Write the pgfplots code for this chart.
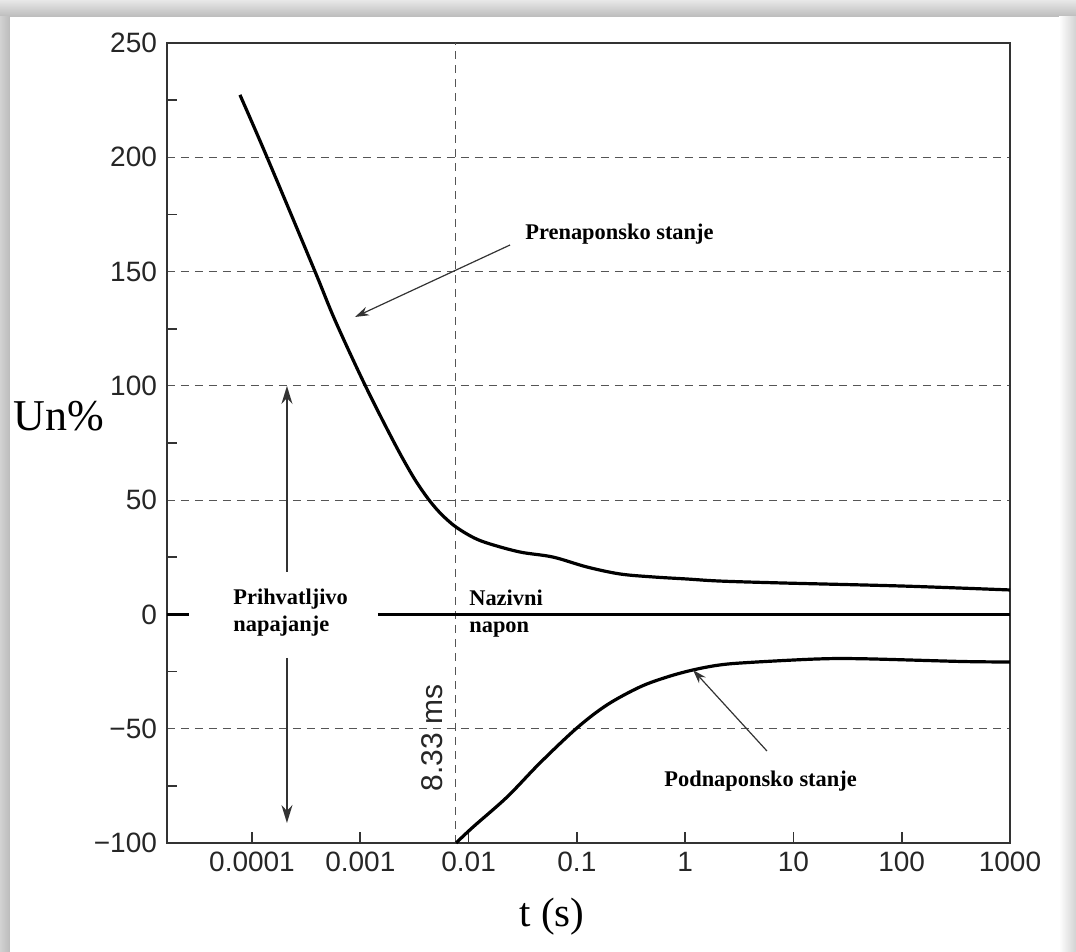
\documentclass[border=0pt]{standalone}
\usepackage{fontspec}
\setmainfont{Liberation Serif}
\setsansfont{Liberation Sans}
\usepackage{pgfplots}
\pgfplotsset{compat=1.18}
\usetikzlibrary{arrows.meta}

\definecolor{axisgray}{HTML}{333333}
\definecolor{gridgray}{HTML}{555555}
\definecolor{frameA}{HTML}{E8E8E8}
\definecolor{frameB}{HTML}{BBBBBB}
\definecolor{frameC}{HTML}{D2D2D2}

\begin{document}
\begin{tikzpicture}
\useasboundingbox (-83.5pt,-54.5pt) rectangle (454.5pt,421.5pt);
% shadow frame of the scanned figure
\shade[top color=frameA, bottom color=frameB] (-83.5pt,413pt) rectangle (454.5pt,421.5pt);
\shade[left color=frameC, right color=frameB] (-83.5pt,-54.5pt) rectangle (-78.5pt,413pt);
\shade[left color=white, right color=frameC] (446pt,-54.5pt) rectangle (454.5pt,413pt);
\begin{axis}[
  at={(0pt,0pt)}, anchor=south west,
  scale only axis,
  width=421.5pt, height=400pt,
  xmode=log,
  xmin=1.64e-5, xmax=1000,
  ymin=-100, ymax=250,
  clip=false,
  axis line style={draw=axisgray, line width=1pt},
  tick pos=left,
  tick align=inside,
  xtick={0.0001,0.001,0.01,0.1,1,10,100,1000},
  xticklabels={0.0001,0.001,0.01,0.1,1,10,100,1000},
  xminorticks=false,
  ytick={-100,-50,50,100,150,200,250},
  yticklabels={−100,−50,50,100,150,200,250},
  extra y ticks={0},
  extra y tick labels={0},
  extra y tick style={grid=none},
  minor ytick={-75,-25,25,75,125,175,225},
  major tick length=5.5pt,
  minor tick length=5pt,
  tick style={draw=axisgray, line width=0.9pt},
  major y tick style={draw=none},
  ymajorgrids=true,
  major grid style={draw=gridgray, line width=0.5pt, dash pattern=on 4pt off 3pt},
  tick label style={font=\sffamily\fontsize{14}{14}\selectfont, text=black!85},
  yticklabel style={xshift=-1.5pt},
  xticklabel style={yshift=-1pt},
]
% 8.33 ms marker
\addplot[gridgray, line width=0.6pt, dash pattern=on 4pt off 3pt] coordinates {(0.0076,-100) (0.0076,250)};
% nominal voltage line
\addplot[black, line width=1.1pt] coordinates {(1.64e-5,0) (2.62e-5,0)};
\addplot[black, line width=1.1pt] coordinates {(1.455e-3,0) (1000,0)};
% overvoltage curve
\addplot[black, line width=1.6pt, smooth, tension=0.55] coordinates {
  (7.74e-5,227.3) (1.377e-4,200) (3.82e-4,150) (5.83e-4,128.8) (1.104e-3,100.4)
  (2.042e-3,75.4) (3.020e-3,60.9) (3.981e-3,52.3) (5.012e-3,46.3) (6.310e-3,41.5)
  (7.943e-3,37.7) (0.01122,33.5) (0.01585,30.8) (0.02985,27.3) (0.0601,25.1)
  (0.1239,20.75) (0.25,17.7) (0.505,16.4) (1.04,15.5) (2.094,14.6)
  (8.0,13.75) (104.7,12.4) (1000,10.7)
};
% undervoltage curve
\addplot[black, line width=1.6pt, smooth, tension=0.55] coordinates {
  (7.66e-3,-100) (0.011,-93) (0.02265,-79.9) (0.0456,-65) (0.1,-49.7)
  (0.1897,-39.6) (0.382,-31.75) (0.679,-27.4) (1.18,-24.3) (2.094,-22.1)
  (3.96,-21.0) (16.5,-19.5) (43.9,-19.4) (367,-20.6) (1000,-20.8)
};
% annotations
\draw[-{Stealth[length=7pt,width=4.5pt]}, line width=0.6pt, axisgray]
  (rel axis cs:0.4069,0.7475) -- (rel axis cs:0.2230,0.6575);
\draw[-{Stealth[length=7pt,width=4.5pt]}, line width=0.6pt, axisgray]
  (rel axis cs:0.7117,0.115) -- (rel axis cs:0.624,0.21625);
\draw[-{Stealth[length=9pt,width=5.5pt]}, line width=0.8pt, axisgray]
  (rel axis cs:0.1423,0.3388) -- (rel axis cs:0.1423,0.5713);
\draw[-{Stealth[length=9pt,width=5.5pt]}, line width=0.8pt, axisgray]
  (rel axis cs:0.1423,0.2313) -- (rel axis cs:0.1423,0.025);
\node[anchor=base west, inner sep=0pt, font=\bfseries\fontsize{11.2}{11.2}\selectfont]
  at (rel axis cs:0.4247,0.754) {Prenaponsko stanje};
\node[anchor=base west, inner sep=0pt, font=\bfseries\fontsize{11.2}{11.2}\selectfont]
  at (rel axis cs:0.5896,0.07) {Podnaponsko stanje};
\node[anchor=base west, inner sep=0pt, font=\bfseries\fontsize{11.2}{11.2}\selectfont]
  at (rel axis cs:0.0783,0.2975) {Prihvatljivo};
\node[anchor=base west, inner sep=0pt, font=\bfseries\fontsize{11.2}{11.2}\selectfont]
  at (rel axis cs:0.0783,0.26375) {napajanje};
\node[anchor=base west, inner sep=0pt, font=\bfseries\fontsize{11.2}{11.2}\selectfont]
  at (rel axis cs:0.3582,0.29625) {Nazivni};
\node[anchor=base west, inner sep=0pt, font=\bfseries\fontsize{11.2}{11.2}\selectfont]
  at (rel axis cs:0.3582,0.2625) {napon};
\node[rotate=90, inner sep=0pt, font=\sffamily\fontsize{15}{15}\selectfont, text=black!85]
  at (rel axis cs:0.3144,0.13125) {8.33 ms};
% axis titles
\node[inner sep=0pt, font=\fontsize{22}{22}\selectfont]
  at (rel axis cs:-0.1281,0.5338) {Un\%};
\node[anchor=base, inner sep=0pt, font=\fontsize{20.5}{20.5}\selectfont]
  at (rel axis cs:0.4567,-0.105) {t (s)};
\end{axis}
\end{tikzpicture}
\end{document}
